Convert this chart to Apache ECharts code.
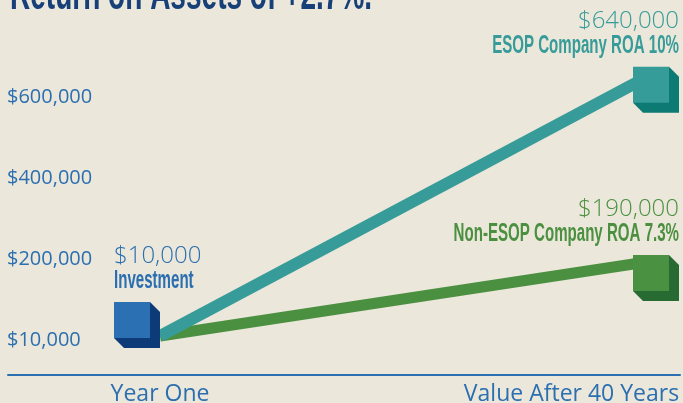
<!DOCTYPE html>
<html>
<head>
<meta charset="utf-8">
<script src="https://cdn.jsdelivr.net/npm/echarts@6/dist/echarts.min.js"></script>
<style>
html,body{margin:0;padding:0;background:#ebe7da;}
#chart{width:683px;height:403px;}
</style>
</head>
<body>
<div id="chart"></div>
<script>
// ---- data ----
const titleText = 'Return on Assets of +2.7%.';
const categories = ['Year One', 'Value After 40 Years'];
const esopValues = [10000, 640000];
const nonEsopValues = [10000, 190000];
const yTickValues = [0, 200000, 400000, 600000];
const yTickLabels = ['$10,000', '$200,000', '$400,000', '$600,000'];
const pointNames = ['Investment', 'ESOP Company ROA 10%', 'Non-ESOP Company ROA 7.3%'];
const pointCats = [0, 1, 1];
const pointVals = [esopValues[0], esopValues[1], nonEsopValues[1]];

// ---- styles ----
const BLUE = '#2b6fb0';
const TEAL = '#379c99';
const GREEN = '#4b9040';
const NAVY = '#173f78';
const cubeStyles = [
  {front: '#2a70b3', dark: '#0d3b78', text: BLUE, dx: -46, dy: -34, anchor: 'left'},
  {front: '#369c99', dark: '#0e7a74', text: TEAL, dx: -7, dy: -14, anchor: 'right'},
  {front: '#4a9141', dark: '#276a32', text: GREEN, dx: -7, dy: -8, anchor: 'right'}
];
const fmtMoney = v => '$' + v.toLocaleString('en-US');

const chart = echarts.init(document.getElementById('chart'), null, {renderer: 'canvas'});

const CUBE = 36, DEPTH = 10;
const valueFont = 24, nameFont = 26;
const NAME_FONT = '"Liberation Sans", Arial, sans-serif';

const option = {
  backgroundColor: '#ebe7da',
  animation: false,
  graphic: [{
    type: 'text', x: 10, y: 12 - 0.35 * 44, scaleX: 0.637,
    style: {text: titleText, font: 'bold 44px ' + NAME_FONT, fill: NAVY, align: 'left', verticalAlign: 'middle'}
  }],
  grid: [
    {left: 160, right: 43, top: 16, bottom: 28, outerBoundsMode: 'none', containLabel: false},
    {left: 8, right: 3, top: 16, bottom: 28, outerBoundsMode: 'none', containLabel: false}
  ],
  xAxis: [
    {
      type: 'category', gridIndex: 0, data: categories, boundaryGap: false,
      axisLine: {show: false}, axisTick: {show: false}, splitLine: {show: false},
      axisLabel: {
        margin: 8, interval: 0,
        formatter: (v, i) => i === categories.length - 1 ? '{r|' + v + '}' : '{l|' + v + '}',
        rich: {
          l: {fontFamily: '"Open Sans"', fontSize: 23, color: BLUE},
          r: {fontFamily: '"Open Sans"', fontSize: 23, color: BLUE, padding: [0, 137, 0, 0]}
        }
      }
    },
    {
      type: 'value', gridIndex: 1, min: 0, max: 1,
      axisLine: {show: true, lineStyle: {color: BLUE, width: 2}},
      axisTick: {show: false}, axisLabel: {show: false}, splitLine: {show: false}
    }
  ],
  yAxis: [
    {
      type: 'value', gridIndex: 0, min: -86400, max: 800000,
      axisLine: {show: false}, axisTick: {show: false}, splitLine: {show: false},
      axisLabel: {
        customValues: yTickValues,
        formatter: v => yTickLabels[yTickValues.indexOf(v)],
        align: 'left', margin: 153,
        fontFamily: '"Open Sans"', fontSize: 20, color: BLUE
      }
    },
    {type: 'value', gridIndex: 1, min: 0, max: 1, show: false}
  ],
  series: [
    {
      name: 'Non-ESOP', type: 'line', xAxisIndex: 0, yAxisIndex: 0, data: nonEsopValues,
      symbol: 'none', lineStyle: {color: GREEN, width: 11, cap: 'butt'}, z: 2
    },
    {
      name: 'ESOP', type: 'line', xAxisIndex: 0, yAxisIndex: 0, data: esopValues,
      symbol: 'none', lineStyle: {color: TEAL, width: 12, cap: 'butt'}, z: 2
    },
    {
      type: 'custom', xAxisIndex: 0, yAxisIndex: 0, z: 5,
      data: pointCats.map((c, i) => [c, pointVals[i]]),
      renderItem: (params, api) => {
        const i = params.dataIndex;
        const st = cubeStyles[i];
        const p = api.coord([api.value(0), api.value(1)]);
        const x0 = p[0] + st.dx, y0 = p[1] + st.dy;
        const s = CUBE, d = DEPTH;
        const tx = st.anchor === 'left' ? x0 : x0 + s + d;
        const nameBase = y0 - 12, valBase = y0 - 37;
        return {
          type: 'group',
          children: [
            {type: 'polygon', shape: {points: [[x0 + s, y0], [x0 + s + d, y0 + d], [x0 + s + d, y0 + s + d], [x0 + d, y0 + s + d], [x0, y0 + s]]}, style: {fill: st.dark}},
            {type: 'rect', shape: {x: x0, y: y0, width: s, height: s}, style: {fill: st.front}},
            {type: 'text', x: tx, y: valBase - 0.35 * valueFont,
              style: {text: fmtMoney(api.value(1)), font: '300 ' + valueFont + 'px "Open Sans"', fill: st.text, align: st.anchor, verticalAlign: 'middle'}},
            {type: 'text', x: tx, y: nameBase - 0.35 * nameFont, scaleX: 0.58,
              style: {text: pointNames[i], font: 'bold ' + nameFont + 'px ' + NAME_FONT, fill: st.text, align: st.anchor, verticalAlign: 'middle'}}
          ]
        };
      }
    }
  ]
};
chart.setOption(option);
</script>
</body>
</html>
